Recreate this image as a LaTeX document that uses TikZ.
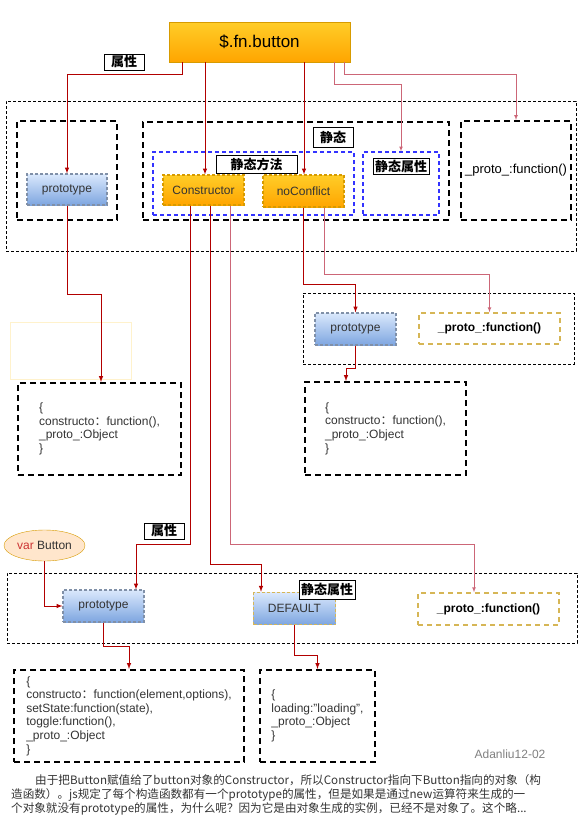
\documentclass[tikz,border=0pt]{standalone}
\usepackage{fontspec}
\setmainfont{Liberation Sans}
\newfontfamily\cjk{Noto Sans CJK SC}
\usetikzlibrary{shapes.geometric}
\newcommand\fsize[1]{\fontsize{#1}{#1}\selectfont}
\definecolor{linkred}{HTML}{B20000}
\definecolor{linkpink}{HTML}{CC6677}
\definecolor{blueTop}{HTML}{DAE8FC}
\definecolor{blueBot}{HTML}{7EA6E0}
\definecolor{blueEdge}{HTML}{8090A8}
\definecolor{orangeTop}{HTML}{FFCD28}
\definecolor{orangeBot}{HTML}{FFA500}
\definecolor{orangeEdge}{HTML}{D79B00}
\definecolor{yellowEdge}{HTML}{D6B656}
\definecolor{blueLine}{HTML}{3333FF}
\definecolor{paleYellow}{HTML}{FFF2CC}
\definecolor{peach}{HTML}{FFE6CC}
\definecolor{varred}{HTML}{CC3333}
\definecolor{textgray}{HTML}{333333}
\begin{document}
\begin{tikzpicture}[x=1pt, y=-1pt,
  objbox/.style={draw, line width=2pt, dash pattern=on 6pt off 4pt, inner sep=0pt},
  groupbox/.style={draw, line width=0.8pt, dash pattern=on 3pt off 2pt, inner sep=0pt},
  bluebox/.style={draw=blueLine, line width=1.2pt, dash pattern=on 4pt off 3pt, inner sep=0pt},
  yelbox/.style={draw=yellowEdge, line width=1.5pt, dash pattern=on 5pt off 4pt, inner sep=0pt, font=\bfseries\fsize{12}},
  tag/.style={draw, fill=white, line width=0.8pt, inner sep=0pt, font=\cjk\bfseries\fsize{13}},
  protonode/.style={top color=blueTop, bottom color=blueBot, draw=blueEdge, line width=1.2pt, dash pattern=on 3pt off 2pt, inner sep=0pt, text=textgray, font=\fsize{12}},
  funcnode/.style={top color=orangeTop, bottom color=orangeBot, draw=orangeEdge, line width=1.2pt, dash pattern=on 3pt off 2pt, inner sep=0pt, text=textgray, font=\fsize{12}},
  objtext/.style={align=left, text=textgray, font=\fontsize{12}{13.6}\selectfont},
  link/.style={->, >=latex, draw=linkred, line width=1pt},
  thinlink/.style={->, >=latex, draw=linkpink, line width=0.7pt}]

\useasboundingbox (0,0) rectangle (578,827);

% the plugin itself
\node[draw=orangeEdge, top color=orangeTop, bottom color=orangeBot, minimum width=181pt, minimum height=40pt, inner sep=0pt, font=\fsize{17}] (button) at (259.5,42) {\$.fn.button};
\node[tag, minimum width=40pt, minimum height=16pt] (attr1) at (124,62) {属性};

% first layer: what $.fn.button holds
\node[groupbox, minimum width=570pt, minimum height=150pt] (layer1) at (291,176) {};
\node[objbox, minimum width=100pt, minimum height=99pt] (protoArea) at (67,170.5) {};
\node[objbox, minimum width=306pt, minimum height=98pt] (staticArea) at (296,171) {};
\node[bluebox, minimum width=201pt, minimum height=63pt] (methodArea) at (253.5,183.5) {};
\node[bluebox, minimum width=76pt, minimum height=63pt] (propArea) at (401,183.5) {};
\node[objbox, minimum width=110pt, minimum height=99pt, font=\fsize{13}] (fnArea) at (516,170.5) {\_proto\_:function()};
\node[tag, minimum width=40pt, minimum height=20pt] (staticTag) at (333,137) {静态};
\node[tag, minimum width=81pt, minimum height=18pt] (methodTag) at (256.5,164) {静态方法};
\node[tag, minimum width=56pt, minimum height=16pt] (propTag) at (401,166.5) {静态属性};
\node[protonode, minimum width=80pt, minimum height=31pt] (proto1) at (67,189.5) {prototype};
\node[funcnode, minimum width=81pt, minimum height=30pt] (ctor) at (203.5,190) {Constructor};
\node[funcnode, minimum width=81pt, minimum height=32pt] (noconf) at (303.5,191) {noConflict};

\draw[link] ([xshift=-77.5pt]button.south) -- ++(0,12) -| (proto1.north);
\draw[link] ([xshift=-54.5pt]button.south) -- ([xshift=-54.5pt]button.south |- ctor.north);
\draw[link] ([xshift=44.5pt]button.south) -- ([xshift=44.5pt]button.south |- noconf.north);
\draw[thinlink] ([xshift=74.5pt]button.south) -- ++(0,22) -| (propArea.north);
\draw[thinlink] ([xshift=84.5pt]button.south) -- ++(0,12) -| (fnArea.north);

% second layer
\node[draw=paleYellow, minimum width=121pt, minimum height=57pt] (blank) at (70.5,350.5) {};
\node[objbox, minimum width=163pt, minimum height=92pt, objtext] (obj1) at (99.5,429) {\{\\constructo{\cjk ：}function(),\\\_proto\_:Object\\\}};
\draw[link] (proto1.south) -- ++(0,89) -| ([xshift=1.5pt]obj1.north);

\node[groupbox, minimum width=271pt, minimum height=71pt] (layer2) at (438.5,328.5) {};
\node[protonode, minimum width=81pt, minimum height=32pt] (proto2) at (355.5,329) {prototype};
\node[yelbox, minimum width=141pt, minimum height=31pt] (fn2) at (489.5,328.5) {\_proto\_:function()};
\node[objbox, minimum width=161pt, minimum height=93pt, objtext] (obj2) at (385.5,428.5) {\{\\constructo{\cjk ：}function(),\\\_proto\_:Object\\\}};

\draw[link] (noconf.south) -- ++(0,77) -| (proto2.north);
\draw[thinlink] ([xshift=20.5pt]noconf.south) -- ++(0,67) -| (fn2.north);
\draw[link] (proto2.south) -- ++(0,23) -| ([xshift=-39.5pt]obj2.north);

% third layer: var Button
\node[ellipse, draw=orangeEdge, fill=peach, minimum width=81pt, minimum height=31pt, inner sep=0pt, text=textgray, font=\fsize{12}] (varbtn) at (44.5,545.5) {\textcolor{varred}{var} Button};
\node[tag, minimum width=40pt, minimum height=16pt] (attr2) at (164,531) {属性};
\node[groupbox, minimum width=570pt, minimum height=70pt] (layer3) at (292,608) {};
\node[protonode, minimum width=81pt, minimum height=32pt] (proto3) at (103.5,606) {prototype};
\node[protonode, draw=yellowEdge, line width=1.5pt, minimum width=82pt, minimum height=32pt] (default) at (294.5,608.5) {DEFAULT};
\node[tag, minimum width=56pt, minimum height=19pt] (propTag2) at (327,589.5) {静态属性};
\node[yelbox, minimum width=141pt, minimum height=32pt] (fn3) at (488.5,609) {\_proto\_:function()};
\node[objbox, minimum width=230pt, minimum height=92pt, objtext] (obj3) at (129,716) {\{\\constructo{\cjk ：}function(element,options),\\setState:function(state),\\toggle:function(),\\\_proto\_:Object\\\}};
\node[objbox, minimum width=115pt, minimum height=92pt, objtext] (obj4) at (317.5,716) {\{\\loading:"loading",\\\_proto\_:Object\\\}};

\draw[link] ([xshift=-13.5pt]ctor.south) -- ++(0,339) -| ([xshift=32.5pt]proto3.north);
\draw[link] ([xshift=6.5pt]ctor.south) -- ++(0,359) -| ([xshift=-33.5pt]default.north);
\draw[thinlink] ([xshift=26.5pt]ctor.south) -- ++(0,339) -| ([xshift=-14.5pt]fn3.north);
\draw[link] (varbtn.south) |- (proto3.west);
\draw[link] (proto3.south) -- ++(0,24) -| (obj3.north);
\draw[link] (default.south) -- ++(0,30.5) -| (obj4.north);

% caption
\node[text=gray, font=\fsize{12}] (sign) at (510,754) {Adanliu12-02};
\node[anchor=west, inner sep=0pt, text=textgray, font=\cjk\fsize{11.6}] (para1) at (35,780) {由于把Button赋值给了button对象的Constructor，所以Constructor指向下Button指向的对象（构};
\node[anchor=west, inner sep=0pt, text=textgray, font=\cjk\fsize{11.6}] (para2) at (11,795) {造函数）。js规定了每个构造函数都有一个prototype的属性，但是如果是通过new运算符来生成的一};
\node[anchor=west, inner sep=0pt, text=textgray, font=\cjk\fsize{11.6}] (para3) at (11,809) {个对象就没有prototype的属性，为什么呢？因为它是由对象生成的实例，已经不是对象了。这个略...};

\end{tikzpicture}
\end{document}
